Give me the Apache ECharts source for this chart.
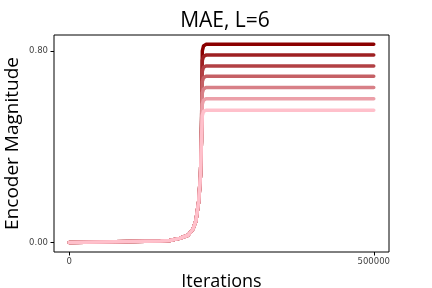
<!DOCTYPE html>
<html>
<head>
<meta charset="utf-8">
<script src="https://cdn.jsdelivr.net/npm/echarts@6/dist/echarts.min.js"></script>
<style>html,body{margin:0;padding:0;background:#fff}#c{width:432px;height:288px}</style>
</head>
<body>
<div id="c"></div>
<script>
const title = "MAE, L=6";
const xName = "Iterations";
const yName = "Encoder Magnitude";
const xTicks = [0, 500000];
const yTicks = [0, 0.8];
// shared early part of every curve
const riseIters = [0, 50000, 100000, 150000, 165000, 181000, 195000, 203000, 208000, 212500, 215500, 217000];
const riseVals  = [0.000, 0.002, 0.004, 0.006, 0.008, 0.017, 0.030, 0.055, 0.090, 0.170, 0.280, 0.420];
// saturation part per line
const tailIters = [218500, 220500, 224500, 500000];
const line1 = [0.800, 0.820, 0.827, 0.827];
const line2 = [0.760, 0.776, 0.782, 0.782];
const line3 = [0.715, 0.731, 0.737, 0.737];
const line4 = [0.672, 0.688, 0.694, 0.694];
const line5 = [0.625, 0.641, 0.647, 0.647];
const line6 = [0.578, 0.594, 0.600, 0.600];
const line7 = [0.530, 0.547, 0.552, 0.552];
const lines = [line1, line2, line3, line4, line5, line6, line7];
const colors = ['#8b0000', '#9e2022', '#b24044', '#c56065', '#d88087', '#eca0a9', '#ffc0cb'];

const series = lines.map((tail, i) => ({
  type: 'line',
  showSymbol: false,
  silent: true,
  lineStyle: { width: 3.5, color: colors[i], cap: 'round', join: 'round' },
  data: riseIters.map((x, k) => [x, riseVals[k]]).concat(tailIters.map((x, k) => [x, tail[k]]))
}));

const chart = echarts.init(document.getElementById('c'), null, { renderer: 'canvas' });
chart.setOption({
  animation: false,
  title: { text: title, left: 220, textAlign: 'center', top: 6,
    textStyle: { fontFamily: 'Open Sans', fontSize: 21, fontWeight: 'normal', color: '#000' } },
  grid: { left: 54, right: 43, top: 35, bottom: 36, outerBoundsMode: 'none', containLabel: false,
    show: true, borderColor: '#000', borderWidth: 1, backgroundColor: 'transparent' },
  xAxis: {
    type: 'value', min: -25000, max: 525000,
    name: xName, nameLocation: 'middle', nameGap: 21, nameMoveOverlap: false,
    nameTextStyle: { fontFamily: 'Open Sans', fontSize: 18, color: '#000' },
    axisLine: { show: false, onZero: false },
    splitLine: { show: false },
    axisTick: { show: true, customValues: xTicks, length: 3.5, lineStyle: { color: '#000' } },
    axisLabel: { customValues: xTicks, fontFamily: 'DejaVu Sans', fontSize: 8.5, color: '#444', margin: 5, formatter: v => String(v) }
  },
  yAxis: {
    type: 'value', min: -0.04, max: 0.866,
    name: yName, nameLocation: 'middle', nameGap: 32, nameMoveOverlap: false,
    nameTextStyle: { fontFamily: 'Open Sans', fontSize: 19, color: '#000' },
    axisLine: { show: false, onZero: false },
    splitLine: { show: false },
    axisTick: { show: true, customValues: yTicks, length: 3.5, lineStyle: { color: '#000' } },
    axisLabel: { customValues: yTicks, fontFamily: 'DejaVu Sans', fontSize: 8.5, color: '#444', margin: 6, formatter: v => v.toFixed(2) }
  },
  series: series
});
</script>
</body>
</html>
